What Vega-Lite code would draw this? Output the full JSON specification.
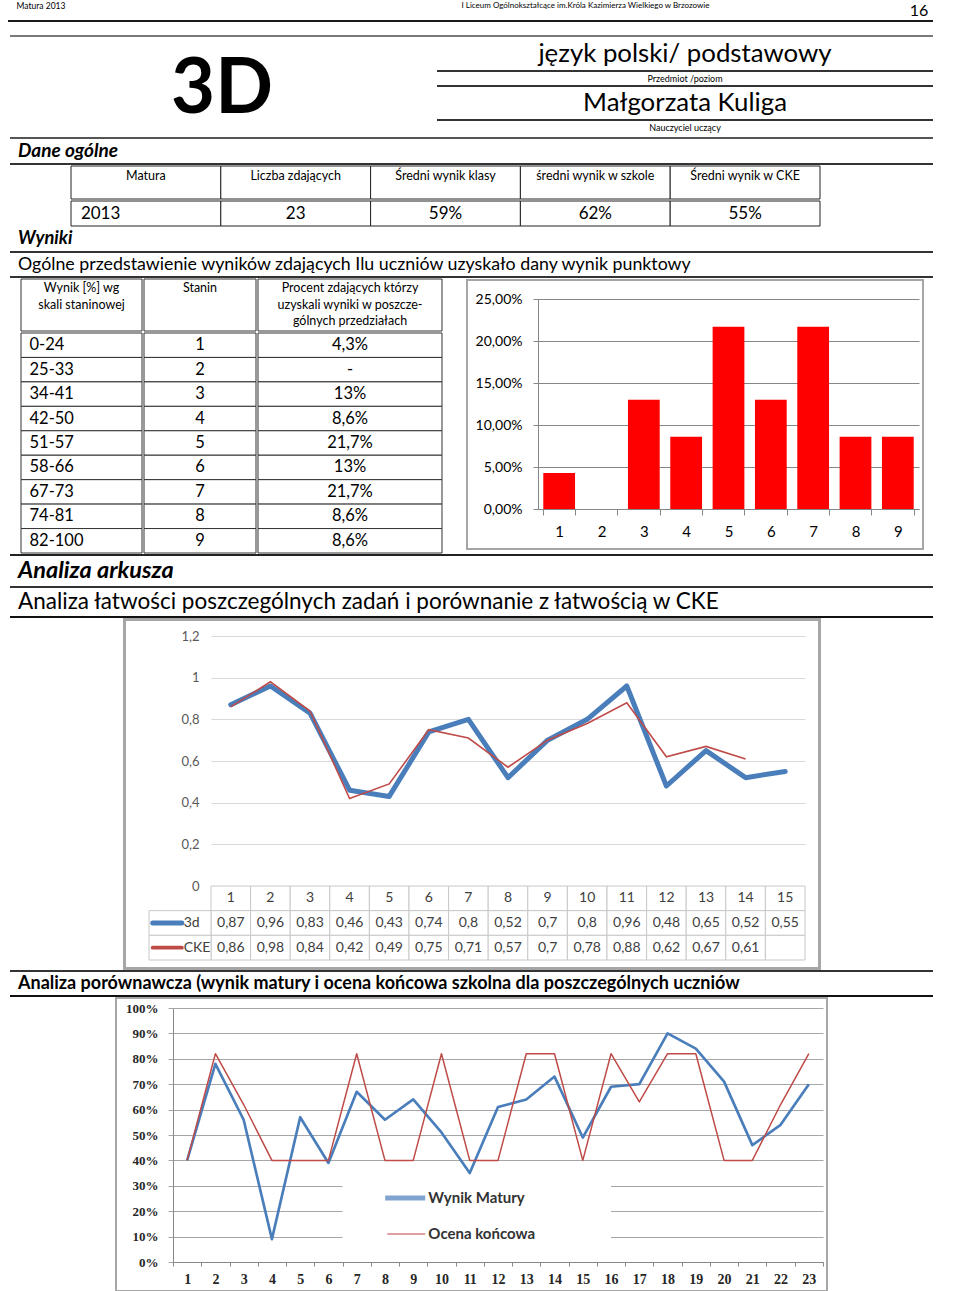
{
  "$schema": "https://vega.github.io/schema/vega-lite/v6.json",
  "padding": 0,
  "spacing": 0,
  "background": "#ffffff",
  "config": {
    "font": "Lato",
    "view": {"stroke": null, "strokeWidth": 0},
    "concat": {"spacing": 0},
    "locale": {"number": {"decimal": ",", "thousands": " ", "grouping": [3], "currency": ["", " zł"]}},
    "text": {"color": "#000000"}
  },
  "datasets": {
    "ogolne": [
      {"kolumna": "Matura", "wartosc": "2013"},
      {"kolumna": "Liczba zdających", "wartosc": "23"},
      {"kolumna": "Średni wynik klasy", "wartosc": "59%"},
      {"kolumna": "średni wynik w szkole", "wartosc": "62%"},
      {"kolumna": "Średni wynik w CKE", "wartosc": "55%"}
    ],
    "stanin": [
      {"wynik": "0-24", "stanin": 1, "procent": "4,3%", "udzial": 0.043},
      {"wynik": "25-33", "stanin": 2, "procent": "-", "udzial": 0},
      {"wynik": "34-41", "stanin": 3, "procent": "13%", "udzial": 0.13},
      {"wynik": "42-50", "stanin": 4, "procent": "8,6%", "udzial": 0.086},
      {"wynik": "51-57", "stanin": 5, "procent": "21,7%", "udzial": 0.217},
      {"wynik": "58-66", "stanin": 6, "procent": "13%", "udzial": 0.13},
      {"wynik": "67-73", "stanin": 7, "procent": "21,7%", "udzial": 0.217},
      {"wynik": "74-81", "stanin": 8, "procent": "8,6%", "udzial": 0.086},
      {"wynik": "82-100", "stanin": 9, "procent": "8,6%", "udzial": 0.086}
    ],
    "zadania": [
      {"zadanie": 1, "seria": "3d", "latwosc": 0.87},
      {"zadanie": 2, "seria": "3d", "latwosc": 0.96},
      {"zadanie": 3, "seria": "3d", "latwosc": 0.83},
      {"zadanie": 4, "seria": "3d", "latwosc": 0.46},
      {"zadanie": 5, "seria": "3d", "latwosc": 0.43},
      {"zadanie": 6, "seria": "3d", "latwosc": 0.74},
      {"zadanie": 7, "seria": "3d", "latwosc": 0.8},
      {"zadanie": 8, "seria": "3d", "latwosc": 0.52},
      {"zadanie": 9, "seria": "3d", "latwosc": 0.7},
      {"zadanie": 10, "seria": "3d", "latwosc": 0.8},
      {"zadanie": 11, "seria": "3d", "latwosc": 0.96},
      {"zadanie": 12, "seria": "3d", "latwosc": 0.48},
      {"zadanie": 13, "seria": "3d", "latwosc": 0.65},
      {"zadanie": 14, "seria": "3d", "latwosc": 0.52},
      {"zadanie": 15, "seria": "3d", "latwosc": 0.55},
      {"zadanie": 1, "seria": "CKE", "latwosc": 0.86},
      {"zadanie": 2, "seria": "CKE", "latwosc": 0.98},
      {"zadanie": 3, "seria": "CKE", "latwosc": 0.84},
      {"zadanie": 4, "seria": "CKE", "latwosc": 0.42},
      {"zadanie": 5, "seria": "CKE", "latwosc": 0.49},
      {"zadanie": 6, "seria": "CKE", "latwosc": 0.75},
      {"zadanie": 7, "seria": "CKE", "latwosc": 0.71},
      {"zadanie": 8, "seria": "CKE", "latwosc": 0.57},
      {"zadanie": 9, "seria": "CKE", "latwosc": 0.7},
      {"zadanie": 10, "seria": "CKE", "latwosc": 0.78},
      {"zadanie": 11, "seria": "CKE", "latwosc": 0.88},
      {"zadanie": 12, "seria": "CKE", "latwosc": 0.62},
      {"zadanie": 13, "seria": "CKE", "latwosc": 0.67},
      {"zadanie": 14, "seria": "CKE", "latwosc": 0.61}
    ],
    "uczniowie": [
      {"uczen": 1, "seria": "Wynik Matury", "wynik": 0.40},
      {"uczen": 2, "seria": "Wynik Matury", "wynik": 0.78},
      {"uczen": 3, "seria": "Wynik Matury", "wynik": 0.56},
      {"uczen": 4, "seria": "Wynik Matury", "wynik": 0.09},
      {"uczen": 5, "seria": "Wynik Matury", "wynik": 0.57},
      {"uczen": 6, "seria": "Wynik Matury", "wynik": 0.39},
      {"uczen": 7, "seria": "Wynik Matury", "wynik": 0.67},
      {"uczen": 8, "seria": "Wynik Matury", "wynik": 0.56},
      {"uczen": 9, "seria": "Wynik Matury", "wynik": 0.64},
      {"uczen": 10, "seria": "Wynik Matury", "wynik": 0.51},
      {"uczen": 11, "seria": "Wynik Matury", "wynik": 0.35},
      {"uczen": 12, "seria": "Wynik Matury", "wynik": 0.61},
      {"uczen": 13, "seria": "Wynik Matury", "wynik": 0.64},
      {"uczen": 14, "seria": "Wynik Matury", "wynik": 0.73},
      {"uczen": 15, "seria": "Wynik Matury", "wynik": 0.49},
      {"uczen": 16, "seria": "Wynik Matury", "wynik": 0.69},
      {"uczen": 17, "seria": "Wynik Matury", "wynik": 0.70},
      {"uczen": 18, "seria": "Wynik Matury", "wynik": 0.90},
      {"uczen": 19, "seria": "Wynik Matury", "wynik": 0.84},
      {"uczen": 20, "seria": "Wynik Matury", "wynik": 0.71},
      {"uczen": 21, "seria": "Wynik Matury", "wynik": 0.46},
      {"uczen": 22, "seria": "Wynik Matury", "wynik": 0.54},
      {"uczen": 23, "seria": "Wynik Matury", "wynik": 0.70},
      {"uczen": 1, "seria": "Ocena końcowa", "wynik": 0.40},
      {"uczen": 2, "seria": "Ocena końcowa", "wynik": 0.82},
      {"uczen": 3, "seria": "Ocena końcowa", "wynik": 0.62},
      {"uczen": 4, "seria": "Ocena końcowa", "wynik": 0.40},
      {"uczen": 5, "seria": "Ocena końcowa", "wynik": 0.40},
      {"uczen": 6, "seria": "Ocena końcowa", "wynik": 0.40},
      {"uczen": 7, "seria": "Ocena końcowa", "wynik": 0.82},
      {"uczen": 8, "seria": "Ocena końcowa", "wynik": 0.40},
      {"uczen": 9, "seria": "Ocena końcowa", "wynik": 0.40},
      {"uczen": 10, "seria": "Ocena końcowa", "wynik": 0.82},
      {"uczen": 11, "seria": "Ocena końcowa", "wynik": 0.40},
      {"uczen": 12, "seria": "Ocena końcowa", "wynik": 0.40},
      {"uczen": 13, "seria": "Ocena końcowa", "wynik": 0.82},
      {"uczen": 14, "seria": "Ocena końcowa", "wynik": 0.82},
      {"uczen": 15, "seria": "Ocena końcowa", "wynik": 0.40},
      {"uczen": 16, "seria": "Ocena końcowa", "wynik": 0.82},
      {"uczen": 17, "seria": "Ocena końcowa", "wynik": 0.63},
      {"uczen": 18, "seria": "Ocena końcowa", "wynik": 0.82},
      {"uczen": 19, "seria": "Ocena końcowa", "wynik": 0.82},
      {"uczen": 20, "seria": "Ocena końcowa", "wynik": 0.40},
      {"uczen": 21, "seria": "Ocena końcowa", "wynik": 0.40},
      {"uczen": 22, "seria": "Ocena końcowa", "wynik": 0.62},
      {"uczen": 23, "seria": "Ocena końcowa", "wynik": 0.82}
    ]
  },
  "vconcat": [
    {"hconcat": [
      {"width": 82, "height": 12, "data": {"values": [{"tekst": "Matura 2013"}]}, "mark": {"type": "text", "fontSize": 8.5}, "encoding": {"text": {"field": "tekst"}}},
      {"width": 378, "height": 12, "data": {"values": []}, "mark": "point"},
      {"width": 251, "height": 12, "data": {"values": [{"tekst": "I Liceum Ogólnokształcące im.Króla Kazimierza Wielkiego w Brzozowie"}]}, "mark": {"type": "text", "fontSize": 8}, "encoding": {"text": {"field": "tekst"}}},
      {"width": 189, "height": 12, "data": {"values": []}, "mark": "point"},
      {"width": 38, "height": 20, "data": {"values": [{"tekst": "16"}]}, "mark": {"type": "text", "fontSize": 16, "dy": 1}, "encoding": {"text": {"field": "tekst"}}}
    ], "spacing": 0},
    {"hconcat": [
      {"width": 8, "height": 2, "data": {"values": []}, "mark": "point"},
      {"width": 925, "height": 2, "data": {"values": [{"element": "linia"}]}, "mark": {"type": "rect", "color": "#1a1a1a"}, "encoding": {}}
    ], "spacing": 0},
    {"width": 10, "height": 13, "data": {"values": []}, "mark": "point"},
    {"hconcat": [
      {"width": 10, "height": 2, "data": {"values": []}, "mark": "point"},
      {"width": 923, "height": 2, "data": {"values": [{"element": "linia"}]}, "mark": {"type": "rect", "color": "#7a7a7a"}, "encoding": {}}
    ], "spacing": 0},
    {"hconcat": [
      {"width": 130, "height": 100, "data": {"values": []}, "mark": "point"},
      {"width": 184, "height": 100, "data": {"values": [{"tekst": "3D"}]}, "mark": {"type": "text", "fontSize": 76, "fontWeight": "bold", "dy": 3}, "encoding": {"text": {"field": "tekst"}}},
      {"width": 123, "height": 100, "data": {"values": []}, "mark": "point"},
      {"vconcat": [
        {"width": 496, "height": 33, "data": {"values": [{"tekst": "język polski/ podstawowy"}]}, "mark": {"type": "text", "fontSize": 25.8}, "encoding": {"text": {"field": "tekst"}}},
        {"width": 496, "height": 2, "data": {"values": [{"element": "linia"}]}, "mark": {"type": "rect", "color": "#333333"}, "encoding": {}},
        {"width": 496, "height": 13, "data": {"values": [{"tekst": "Przedmiot /poziom"}]}, "mark": {"type": "text", "fontSize": 9}, "encoding": {"text": {"field": "tekst"}}},
        {"width": 496, "height": 2, "data": {"values": [{"element": "linia"}]}, "mark": {"type": "rect", "color": "#333333"}, "encoding": {}},
        {"width": 496, "height": 32, "data": {"values": [{"tekst": "Małgorzata Kuliga"}]}, "mark": {"type": "text", "fontSize": 25.8}, "encoding": {"text": {"field": "tekst"}}},
        {"width": 496, "height": 2, "data": {"values": [{"element": "linia"}]}, "mark": {"type": "rect", "color": "#333333"}, "encoding": {}},
        {"width": 496, "height": 14, "data": {"values": [{"tekst": "Nauczyciel uczący"}]}, "mark": {"type": "text", "fontSize": 9}, "encoding": {"text": {"field": "tekst"}}},
        {"width": 496, "height": 2, "data": {"values": []}, "mark": "point"}
      ], "spacing": 0}
    ], "spacing": 0},
    {"hconcat": [
      {"width": 10, "height": 2, "data": {"values": []}, "mark": "point"},
      {"width": 923, "height": 2, "data": {"values": [{"element": "linia"}]}, "mark": {"type": "rect", "color": "#555555"}, "encoding": {}}
    ], "spacing": 0},
    {"width": 36, "height": 24, "data": {"values": [{"tekst": "Dane ogólne"}]}, "mark": {"type": "text", "fontSize": 19, "fontWeight": "bold", "fontStyle": "italic", "align": "left"}, "encoding": {"text": {"field": "tekst"}}},
    {"hconcat": [
      {"width": 10, "height": 2, "data": {"values": []}, "mark": "point"},
      {"width": 923, "height": 2, "data": {"values": [{"element": "linia"}]}, "mark": {"type": "rect", "color": "#333333"}, "encoding": {}}
    ], "spacing": 0},
    {"hconcat": [
      {"width": 70, "height": 60, "data": {"values": []}, "mark": "point"},
      {"vconcat": [
        {"width": 749, "height": 33, "data": {"name": "ogolne"},
         "encoding": {"x": {"field": "kolumna", "type": "nominal", "sort": null, "scale": {"paddingInner": 0, "paddingOuter": 0}, "axis": null}},
         "layer": [
           {"mark": {"type": "rect", "fill": "#ffffff", "stroke": "#222222", "strokeWidth": 1}},
           {"mark": {"type": "text", "fontSize": 12.5, "dy": -7}, "encoding": {"text": {"field": "kolumna"}}}
         ]},
        {"width": 749, "height": 25, "data": {"name": "ogolne"},
         "encoding": {"x": {"field": "kolumna", "type": "nominal", "sort": null, "scale": {"paddingInner": 0, "paddingOuter": 0}, "axis": null}},
         "layer": [
           {"mark": {"type": "rect", "fill": "#ffffff", "stroke": "#222222", "strokeWidth": 1}},
           {"transform": [{"filter": "datum.kolumna === 'Matura'"}], "mark": {"type": "text", "fontSize": 17, "align": "left", "dx": -65}, "encoding": {"text": {"field": "wartosc"}}},
           {"transform": [{"filter": "datum.kolumna !== 'Matura'"}], "mark": {"type": "text", "fontSize": 17}, "encoding": {"text": {"field": "wartosc"}}}
         ]}
      ], "spacing": 0}
    ], "spacing": 0},
    {"width": 36, "height": 24, "data": {"values": [{"tekst": "Wyniki"}]}, "mark": {"type": "text", "fontSize": 18.3, "fontWeight": "bold", "fontStyle": "italic", "align": "left"}, "encoding": {"text": {"field": "tekst"}}},
    {"hconcat": [
      {"width": 10, "height": 2, "data": {"values": []}, "mark": "point"},
      {"width": 923, "height": 2, "data": {"values": [{"element": "linia"}]}, "mark": {"type": "rect", "color": "#333333"}, "encoding": {}}
    ], "spacing": 0},
    {"width": 36, "height": 23, "data": {"values": [{"tekst": "Ogólne przedstawienie wyników zdających Ilu uczniów uzyskało dany wynik punktowy"}]}, "mark": {"type": "text", "fontSize": 17.8, "align": "left"}, "encoding": {"text": {"field": "tekst"}}},
    {"hconcat": [
      {"width": 10, "height": 2, "data": {"values": []}, "mark": "point"},
      {"width": 923, "height": 2, "data": {"values": [{"element": "linia"}]}, "mark": {"type": "rect", "color": "#333333"}, "encoding": {}}
    ], "spacing": 0},
    {"hconcat": [
      {"width": 20, "height": 274, "data": {"values": []}, "mark": "point"},
      {"vconcat": [
        {"width": 121, "height": 52, "data": {"values": [{"naglowek": "Wynik  [%] wg\nskali staninowej"}]},
         "layer": [
           {"mark": {"type": "rect", "fill": "#ffffff", "stroke": "#333333"}, "encoding": {}},
           {"mark": {"type": "text", "fontSize": 12.5, "baseline": "top", "dy": -23, "lineBreak": "\n", "lineHeight": 16.5}, "encoding": {"text": {"field": "naglowek"}}}
         ]},
        {"width": 121, "height": 220, "data": {"name": "stanin"},
         "encoding": {"y": {"field": "wynik", "type": "nominal", "sort": null, "scale": {"paddingInner": 0, "paddingOuter": 0}, "axis": null}},
         "layer": [
           {"mark": {"type": "rect", "fill": "#ffffff", "stroke": "#333333"}},
           {"mark": {"type": "text", "fontSize": 16.5, "align": "left", "dx": -52}, "encoding": {"text": {"field": "wynik"}}}
         ]}
      ], "spacing": 0},
      {"vconcat": [
        {"width": 112, "height": 52, "data": {"values": [{"naglowek": "Stanin"}]},
         "layer": [
           {"mark": {"type": "rect", "fill": "#ffffff", "stroke": "#333333"}, "encoding": {}},
           {"mark": {"type": "text", "fontSize": 12.5, "baseline": "top", "dy": -23}, "encoding": {"text": {"field": "naglowek"}}}
         ]},
        {"width": 112, "height": 220, "data": {"name": "stanin"},
         "encoding": {"y": {"field": "wynik", "type": "nominal", "sort": null, "scale": {"paddingInner": 0, "paddingOuter": 0}, "axis": null}},
         "layer": [
           {"mark": {"type": "rect", "fill": "#ffffff", "stroke": "#333333"}},
           {"mark": {"type": "text", "fontSize": 16.5}, "encoding": {"text": {"field": "stanin", "type": "quantitative"}}}
         ]}
      ], "spacing": 0},
      {"vconcat": [
        {"width": 184, "height": 52, "data": {"values": [{"naglowek": "Procent zdających którzy\nuzyskali wyniki w poszcze-\ngólnych przedziałach"}]},
         "layer": [
           {"mark": {"type": "rect", "fill": "#ffffff", "stroke": "#333333"}, "encoding": {}},
           {"mark": {"type": "text", "fontSize": 12.5, "baseline": "top", "dy": -23, "lineBreak": "\n", "lineHeight": 16.5}, "encoding": {"text": {"field": "naglowek"}}}
         ]},
        {"width": 184, "height": 220, "data": {"name": "stanin"},
         "encoding": {"y": {"field": "wynik", "type": "nominal", "sort": null, "scale": {"paddingInner": 0, "paddingOuter": 0}, "axis": null}},
         "layer": [
           {"mark": {"type": "rect", "fill": "#ffffff", "stroke": "#333333"}},
           {"mark": {"type": "text", "fontSize": 16.5}, "encoding": {"text": {"field": "procent"}}}
         ]}
      ], "spacing": 0},
      {"width": 23, "height": 274, "data": {"values": []}, "mark": "point"},
      {"vconcat": [
        {"width": 458, "height": 2, "data": {"values": [{"element": "linia"}]}, "mark": {"type": "rect", "color": "#a6a6a6"}, "encoding": {}},
        {"hconcat": [
          {"width": 2, "height": 267, "data": {"values": [{"element": "linia"}]}, "mark": {"type": "rect", "color": "#a6a6a6"}, "encoding": {}},
          {"width": 454, "height": 267, "data": {"name": "stanin"},
           "mark": {"type": "bar", "color": "#ff0000"},
           "encoding": {
             "x": {"field": "stanin", "type": "ordinal", "scale": {"range": [70, 451], "paddingInner": 0.25, "paddingOuter": 0.125},
                   "axis": {"title": null, "offset": -39, "labelAngle": 0, "tickBand": "extent", "labelFontSize": 15, "labelPadding": 9, "tickSize": 6, "domainColor": "#868686", "tickColor": "#868686", "labelColor": "#000000"}},
             "y": {"field": "udzial", "type": "quantitative", "scale": {"domain": [0, 0.25], "range": [228, 18]},
                   "axis": {"title": null, "offset": -70, "values": [0, 0.05, 0.1, 0.15, 0.2, 0.25], "format": ".2%", "gridColor": "#868686", "domainColor": "#868686", "tickColor": "#868686", "tickSize": 5, "labelFontSize": 14, "labelPadding": 11, "labelColor": "#000000"}}
           }},
          {"width": 2, "height": 267, "data": {"values": [{"element": "linia"}]}, "mark": {"type": "rect", "color": "#a6a6a6"}, "encoding": {}}
        ], "spacing": 0},
        {"width": 458, "height": 2, "data": {"values": [{"element": "linia"}]}, "mark": {"type": "rect", "color": "#a6a6a6"}, "encoding": {}}
      ], "spacing": 0}
    ], "spacing": 0},
    {"hconcat": [
      {"width": 10, "height": 2, "data": {"values": []}, "mark": "point"},
      {"width": 923, "height": 2, "data": {"values": [{"element": "linia"}]}, "mark": {"type": "rect", "color": "#222222"}, "encoding": {}}
    ], "spacing": 0},
    {"width": 36, "height": 30, "data": {"values": [{"tekst": "Analiza arkusza"}]}, "mark": {"type": "text", "fontSize": 23.5, "fontWeight": "bold", "fontStyle": "italic", "align": "left"}, "encoding": {"text": {"field": "tekst"}}},
    {"hconcat": [
      {"width": 10, "height": 2, "data": {"values": []}, "mark": "point"},
      {"width": 923, "height": 2, "data": {"values": [{"element": "linia"}]}, "mark": {"type": "rect", "color": "#333333"}, "encoding": {}}
    ], "spacing": 0},
    {"width": 36, "height": 28, "data": {"values": [{"tekst": "Analiza łatwości poszczególnych zadań i porównanie z łatwością w CKE"}]}, "mark": {"type": "text", "fontSize": 22.5, "align": "left"}, "encoding": {"text": {"field": "tekst"}}},
    {"hconcat": [
      {"width": 10, "height": 2, "data": {"values": []}, "mark": "point"},
      {"width": 923, "height": 2, "data": {"values": [{"element": "linia"}]}, "mark": {"type": "rect", "color": "#111111"}, "encoding": {}}
    ], "spacing": 0},
    {"hconcat": [
      {"width": 123, "height": 352, "data": {"values": []}, "mark": "point"},
      {"vconcat": [
        {"width": 698, "height": 3, "data": {"values": [{"element": "linia"}]}, "mark": {"type": "rect", "color": "#a6a6a6"}, "encoding": {}},
        {"hconcat": [
          {"width": 3, "height": 346, "data": {"values": [{"element": "linia"}]}, "mark": {"type": "rect", "color": "#a6a6a6"}, "encoding": {}},
          {"width": 692, "height": 346,
           "resolve": {"scale": {"x": "independent", "y": "independent"}},
           "layer": [
             {"data": {"name": "zadania"},
              "encoding": {
                "x": {"field": "zadanie", "type": "ordinal", "scale": {"type": "band", "range": [85, 679], "paddingInner": 0, "paddingOuter": 0}, "axis": null},
                "y": {"field": "latwosc", "type": "quantitative", "scale": {"domain": [0, 1.2], "range": [265, 15]},
                      "axis": {"title": null, "offset": -85, "values": [0, 0.2, 0.4, 0.6, 0.8, 1, 1.2], "format": ".1~f", "domain": false, "ticks": false, "gridColor": "#d9d9d9", "labelColor": "#595959", "labelFontSize": 13, "labelPadding": 12}}
              },
              "layer": [
                {"transform": [{"filter": "datum.seria === '3d'"}], "mark": {"type": "line", "color": "#4a7ebb", "strokeWidth": 5, "strokeJoin": "round", "strokeCap": "round"}},
                {"transform": [{"filter": "datum.seria === 'CKE'"}], "mark": {"type": "line", "color": "#be4b48", "strokeWidth": 1.6}}
              ]},
             {"data": {"name": "zadania"},
              "encoding": {"x": {"field": "zadanie", "type": "ordinal", "scale": {"type": "band", "range": [85, 679], "paddingInner": 0, "paddingOuter": 0}, "axis": null}},
              "layer": [
                {"transform": [{"filter": "datum.seria === '3d'"}], "mark": {"type": "rect", "fill": "#ffffff", "stroke": "#c8c8c8"},
                 "encoding": {"y": {"datum": "nr", "type": "nominal", "scale": {"domain": ["nr", "3d", "CKE"], "range": [265, 339], "paddingInner": 0, "paddingOuter": 0}, "axis": null}}},
                {"transform": [{"filter": "datum.seria === '3d'"}], "mark": {"type": "rect", "fill": "#ffffff", "stroke": "#c8c8c8"},
                 "encoding": {"y": {"datum": "3d", "type": "nominal", "axis": null}}},
                {"transform": [{"filter": "datum.seria === '3d'"}], "mark": {"type": "rect", "fill": "#ffffff", "stroke": "#c8c8c8"},
                 "encoding": {"y": {"datum": "CKE", "type": "nominal", "axis": null}}},
                {"transform": [{"filter": "datum.seria === '3d'"}], "mark": {"type": "text", "fontSize": 14, "color": "#404040"},
                 "encoding": {"y": {"datum": "nr", "type": "nominal", "axis": null}, "text": {"field": "zadanie", "type": "quantitative", "format": "d"}}},
                {"mark": {"type": "text", "fontSize": 14, "color": "#404040"},
                 "encoding": {"y": {"field": "seria", "type": "nominal", "axis": null}, "text": {"field": "latwosc", "type": "quantitative", "format": ".2~f"}}}
              ]},
             {"data": {"values": [{"seria": "3d"}, {"seria": "CKE"}]},
              "encoding": {"y": {"field": "seria", "type": "nominal", "scale": {"domain": ["nr", "3d", "CKE"], "range": [265, 339], "paddingInner": 0, "paddingOuter": 0}, "axis": null}},
              "layer": [
                {"mark": {"type": "rect", "fill": "#ffffff", "stroke": "#c8c8c8"},
                 "encoding": {"x": {"datum": 0, "type": "quantitative", "scale": {"domain": [0, 1], "range": [23, 85]}, "axis": null}, "x2": {"datum": 1}}},
                {"mark": {"type": "rule", "strokeCap": "round"},
                 "encoding": {
                   "x": {"datum": 0.06, "type": "quantitative"}, "x2": {"datum": 0.53},
                   "color": {"field": "seria", "type": "nominal", "scale": {"domain": ["3d", "CKE"], "range": ["#4a7ebb", "#be4b48"]}, "legend": null},
                   "strokeWidth": {"field": "seria", "type": "ordinal", "scale": {"domain": ["3d", "CKE"], "range": [5, 1.5]}, "legend": null}}},
                {"mark": {"type": "text", "align": "left", "fontSize": 14, "color": "#404040"},
                 "encoding": {"x": {"datum": 0.56, "type": "quantitative"}, "text": {"field": "seria"}}}
              ]}
           ]},
          {"width": 3, "height": 346, "data": {"values": [{"element": "linia"}]}, "mark": {"type": "rect", "color": "#a6a6a6"}, "encoding": {}}
        ], "spacing": 0},
        {"width": 698, "height": 3, "data": {"values": [{"element": "linia"}]}, "mark": {"type": "rect", "color": "#a6a6a6"}, "encoding": {}}
      ], "spacing": 0}
    ], "spacing": 0},
    {"hconcat": [
      {"width": 10, "height": 2, "data": {"values": []}, "mark": "point"},
      {"width": 923, "height": 2, "data": {"values": [{"element": "linia"}]}, "mark": {"type": "rect", "color": "#333333"}, "encoding": {}}
    ], "spacing": 0},
    {"width": 36, "height": 23, "data": {"values": [{"tekst": "Analiza porównawcza (wynik matury i ocena końcowa szkolna dla poszczególnych uczniów"}]}, "mark": {"type": "text", "fontSize": 18, "fontWeight": "bold", "align": "left"}, "encoding": {"text": {"field": "tekst"}}},
    {"hconcat": [
      {"width": 10, "height": 2, "data": {"values": []}, "mark": "point"},
      {"width": 923, "height": 2, "data": {"values": [{"element": "linia"}]}, "mark": {"type": "rect", "color": "#111111"}, "encoding": {}}
    ], "spacing": 0},
    {"hconcat": [
      {"width": 115, "height": 295, "data": {"values": []}, "mark": "point"},
      {"vconcat": [
        {"width": 713, "height": 2, "data": {"values": [{"element": "linia"}]}, "mark": {"type": "rect", "color": "#a6a6a6"}, "encoding": {}},
        {"hconcat": [
          {"width": 2, "height": 291, "data": {"values": [{"element": "linia"}]}, "mark": {"type": "rect", "color": "#a6a6a6"}, "encoding": {}},
          {"width": 709, "height": 291,
           "layer": [
             {"data": {"name": "uczniowie"},
              "mark": {"type": "line", "strokeJoin": "round"},
              "encoding": {
                "x": {"field": "uczen", "type": "ordinal", "scale": {"type": "band", "range": [56, 706], "paddingInner": 0, "paddingOuter": 0},
                      "axis": {"title": null, "offset": -28, "labelAngle": 0, "tickBand": "extent", "labelFont": "Liberation Serif", "labelFontWeight": "bold", "labelFontSize": 14, "labelColor": "#262626", "labelPadding": 6, "tickSize": 4, "tickColor": "#888888", "domainColor": "#888888"}},
                "y": {"field": "wynik", "type": "quantitative", "scale": {"domain": [0, 1], "range": [263, 9]},
                      "axis": {"title": null, "offset": -56, "values": [0, 0.1, 0.2, 0.3, 0.4, 0.5, 0.6, 0.7, 0.8, 0.9, 1], "format": ".0%", "gridColor": "#a6a6a6", "domainColor": "#888888", "tickColor": "#a6a6a6", "tickSize": 5, "labelFont": "Liberation Serif", "labelFontWeight": "bold", "labelFontSize": 13, "labelColor": "#262626", "labelPadding": 10}},
                "color": {"field": "seria", "type": "nominal", "scale": {"domain": ["Wynik Matury", "Ocena końcowa"], "range": ["#4a7ebb", "#be4b48"]}, "legend": null},
                "strokeWidth": {"field": "seria", "type": "ordinal", "scale": {"domain": ["Wynik Matury", "Ocena końcowa"], "range": [5, 1.5]}, "legend": null}
              }},
             {"data": {"values": [{"element": "legenda"}]},
              "mark": {"type": "rect", "fill": "#ffffff"},
              "encoding": {
                "x": {"datum": 7, "type": "ordinal", "bandPosition": 0,
                      "axis": {"title": null, "offset": -28, "labelAngle": 0, "tickBand": "extent", "labelFont": "Liberation Serif", "labelFontWeight": "bold", "labelFontSize": 14, "labelColor": "#262626", "labelPadding": 6, "tickSize": 4, "tickColor": "#888888", "domainColor": "#888888"}},
                "x2": {"datum": 16},
                "y": {"datum": 0.028, "type": "quantitative",
                      "axis": {"title": null, "offset": -56, "values": [0, 0.1, 0.2, 0.3, 0.4, 0.5, 0.6, 0.7, 0.8, 0.9, 1], "format": ".0%", "gridColor": "#a6a6a6", "domainColor": "#888888", "tickColor": "#a6a6a6", "tickSize": 5, "labelFont": "Liberation Serif", "labelFontWeight": "bold", "labelFontSize": 13, "labelColor": "#262626", "labelPadding": 10}},
                "y2": {"datum": 0.336}
              }},
             {"data": {"values": [{"seria": "Wynik Matury"}]},
              "mark": {"type": "tick", "orient": "horizontal", "size": 40, "thickness": 5, "xOffset": -8},
              "encoding": {
                "x": {"datum": 9, "type": "ordinal",
                      "axis": {"title": null, "offset": -28, "labelAngle": 0, "tickBand": "extent", "labelFont": "Liberation Serif", "labelFontWeight": "bold", "labelFontSize": 14, "labelColor": "#262626", "labelPadding": 6, "tickSize": 4, "tickColor": "#888888", "domainColor": "#888888"}},
                "y": {"datum": 0.252, "type": "quantitative",
                      "axis": {"title": null, "offset": -56, "values": [0, 0.1, 0.2, 0.3, 0.4, 0.5, 0.6, 0.7, 0.8, 0.9, 1], "format": ".0%", "gridColor": "#a6a6a6", "domainColor": "#888888", "tickColor": "#a6a6a6", "tickSize": 5, "labelFont": "Liberation Serif", "labelFontWeight": "bold", "labelFontSize": 13, "labelColor": "#262626", "labelPadding": 10}},
                "color": {"field": "seria", "type": "nominal", "legend": null}
              }},
             {"data": {"values": [{"seria": "Ocena końcowa"}]},
              "mark": {"type": "tick", "orient": "horizontal", "size": 38, "thickness": 1.5, "xOffset": -7},
              "encoding": {
                "x": {"datum": 9, "type": "ordinal",
                      "axis": {"title": null, "offset": -28, "labelAngle": 0, "tickBand": "extent", "labelFont": "Liberation Serif", "labelFontWeight": "bold", "labelFontSize": 14, "labelColor": "#262626", "labelPadding": 6, "tickSize": 4, "tickColor": "#888888", "domainColor": "#888888"}},
                "y": {"datum": 0.11, "type": "quantitative",
                      "axis": {"title": null, "offset": -56, "values": [0, 0.1, 0.2, 0.3, 0.4, 0.5, 0.6, 0.7, 0.8, 0.9, 1], "format": ".0%", "gridColor": "#a6a6a6", "domainColor": "#888888", "tickColor": "#a6a6a6", "tickSize": 5, "labelFont": "Liberation Serif", "labelFontWeight": "bold", "labelFontSize": 13, "labelColor": "#262626", "labelPadding": 10}},
                "color": {"field": "seria", "type": "nominal", "legend": null}
              }},
             {"data": {"values": [{"seria": "Wynik Matury"}]},
              "mark": {"type": "text", "align": "left", "dx": 1, "fontWeight": "bold", "fontSize": 15, "color": "#333333"},
              "encoding": {
                "x": {"datum": 10, "type": "ordinal", "bandPosition": 0,
                      "axis": {"title": null, "offset": -28, "labelAngle": 0, "tickBand": "extent", "labelFont": "Liberation Serif", "labelFontWeight": "bold", "labelFontSize": 14, "labelColor": "#262626", "labelPadding": 6, "tickSize": 4, "tickColor": "#888888", "domainColor": "#888888"}},
                "y": {"datum": 0.252, "type": "quantitative",
                      "axis": {"title": null, "offset": -56, "values": [0, 0.1, 0.2, 0.3, 0.4, 0.5, 0.6, 0.7, 0.8, 0.9, 1], "format": ".0%", "gridColor": "#a6a6a6", "domainColor": "#888888", "tickColor": "#a6a6a6", "tickSize": 5, "labelFont": "Liberation Serif", "labelFontWeight": "bold", "labelFontSize": 13, "labelColor": "#262626", "labelPadding": 10}},
                "text": {"field": "seria"}
              }},
             {"data": {"values": [{"seria": "Ocena końcowa"}]},
              "mark": {"type": "text", "align": "left", "dx": 1, "fontWeight": "bold", "fontSize": 15, "color": "#333333"},
              "encoding": {
                "x": {"datum": 10, "type": "ordinal", "bandPosition": 0,
                      "axis": {"title": null, "offset": -28, "labelAngle": 0, "tickBand": "extent", "labelFont": "Liberation Serif", "labelFontWeight": "bold", "labelFontSize": 14, "labelColor": "#262626", "labelPadding": 6, "tickSize": 4, "tickColor": "#888888", "domainColor": "#888888"}},
                "y": {"datum": 0.11, "type": "quantitative",
                      "axis": {"title": null, "offset": -56, "values": [0, 0.1, 0.2, 0.3, 0.4, 0.5, 0.6, 0.7, 0.8, 0.9, 1], "format": ".0%", "gridColor": "#a6a6a6", "domainColor": "#888888", "tickColor": "#a6a6a6", "tickSize": 5, "labelFont": "Liberation Serif", "labelFontWeight": "bold", "labelFontSize": 13, "labelColor": "#262626", "labelPadding": 10}},
                "text": {"field": "seria"}
              }}
           ]},
          {"width": 2, "height": 291, "data": {"values": [{"element": "linia"}]}, "mark": {"type": "rect", "color": "#a6a6a6"}, "encoding": {}}
        ], "spacing": 0},
        {"width": 713, "height": 2, "data": {"values": [{"element": "linia"}]}, "mark": {"type": "rect", "color": "#a6a6a6"}, "encoding": {}}
      ], "spacing": 0}
    ], "spacing": 0}
  ]
}
